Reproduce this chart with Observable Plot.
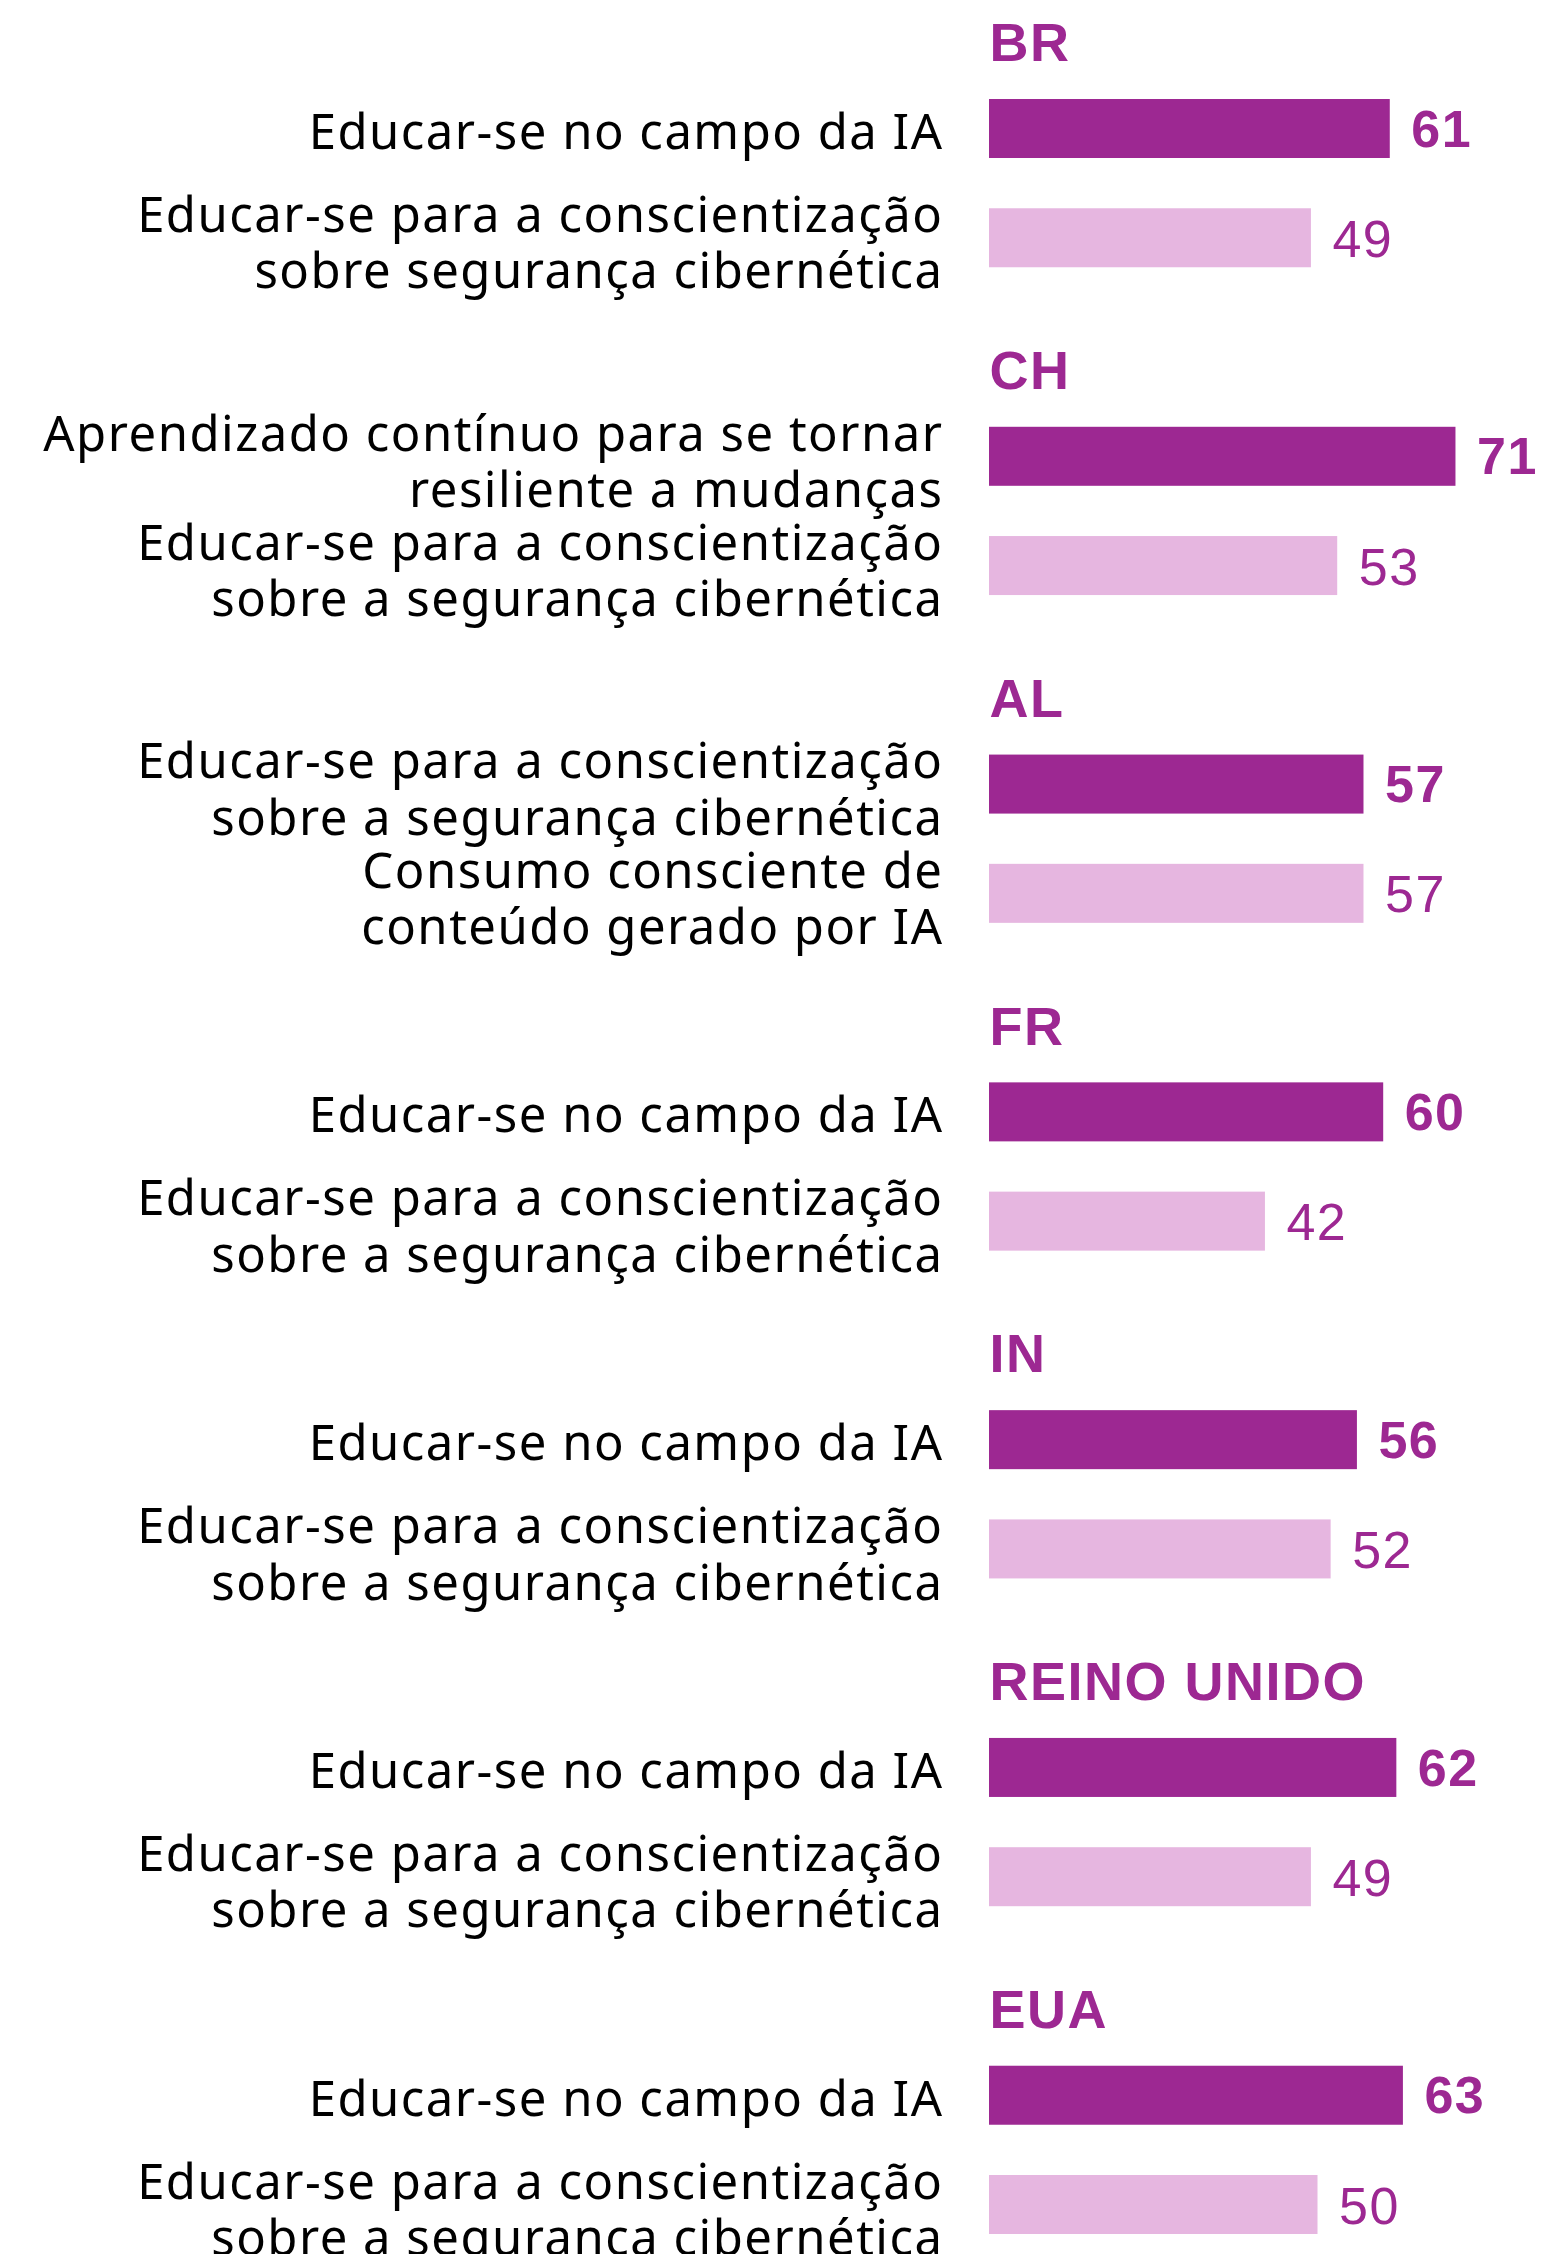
<!DOCTYPE html>
<html>
<head>
<meta charset="utf-8">
<script src="https://cdn.jsdelivr.net/npm/d3@7"></script>
<script src="https://cdn.jsdelivr.net/npm/@observablehq/plot@0.6"></script>
<style>
  html, body { margin: 0; padding: 0; background: #ffffff; }
  #chart svg text { letter-spacing: 1.5px; }
</style>
</head>
<body>
<div id="chart"></div>
<script>
// ---- Data ----
const countries = ["BR", "CH", "AL", "FR", "IN", "REINO UNIDO", "EUA"];

const firstLabels = [
  "Educar-se no campo da IA",
  "Aprendizado contínuo para se tornar\nresiliente a mudanças",
  "Educar-se para a conscientização\nsobre a segurança cibernética",
  "Educar-se no campo da IA",
  "Educar-se no campo da IA",
  "Educar-se no campo da IA",
  "Educar-se no campo da IA"
];
const firstValues = [61, 71, 57, 60, 56, 62, 63];

const secondLabels = [
  "Educar-se para a conscientização\nsobre segurança cibernética",
  "Educar-se para a conscientização\nsobre a segurança cibernética",
  "Consumo consciente de\nconteúdo gerado por IA",
  "Educar-se para a conscientização\nsobre a segurança cibernética",
  "Educar-se para a conscientização\nsobre a segurança cibernética",
  "Educar-se para a conscientização\nsobre a segurança cibernética",
  "Educar-se para a conscientização\nsobre a segurança cibernética"
];
const secondValues = [49, 53, 57, 42, 52, 49, 50];

// ---- Build table ----
const DARK = "#9d2892";
const LIGHT = "#e6b6e0";

const rows = [];
countries.forEach((c, i) => {
  rows.push(c + "|1", c + "|2");
  if (i < countries.length - 1) rows.push(c + "|gap");
});

const data = [];
countries.forEach((c, i) => {
  data.push({country: c, rank: 1, row: c + "|1", label: firstLabels[i], value: firstValues[i]});
  data.push({country: c, rank: 2, row: c + "|2", label: secondLabels[i], value: secondValues[i]});
});
const first = data.filter(d => d.rank === 1);
const second = data.filter(d => d.rank === 2);
const singleLine = data.filter(d => !d.label.includes("\n"));
const multiLine = data.filter(d => d.label.includes("\n"));

const labelStyle = {
  x: 0, y: "row", text: "label", textAnchor: "end", dx: -46,
  fontSize: 49, fontFamily: "Noto Sans", lineHeight: 1.15, fill: "#000000"
};

const chart = Plot.plot({
  width: 1547,
  height: 2254,
  margin: 0,
  x: {domain: [0, 100], range: [989, 1646], axis: null},
  y: {type: "band", domain: rows, range: [99, 2234], paddingInner: 0.46, paddingOuter: 0, align: 0, round: false, axis: null},
  style: {background: "#ffffff", overflow: "hidden"},
  marks: [
    Plot.barX(first, {x: "value", y: "row", fill: DARK}),
    Plot.barX(second, {x: "value", y: "row", fill: LIGHT}),
    Plot.text(singleLine, {...labelStyle, dy: 2}),
    Plot.text(multiLine, {...labelStyle, dy: 4}),
    Plot.text(first, {
      x: 0, y: "row", text: "country", textAnchor: "start", dy: -85,
      fontSize: 54, fontWeight: "bold", fontFamily: "Liberation Sans", fill: DARK
    }),
    Plot.text(first, {
      x: "value", y: "row", text: d => String(d.value), textAnchor: "start", dx: 21, dy: 1,
      fontSize: 52, fontWeight: "bold", fontFamily: "Liberation Sans", fill: DARK
    }),
    Plot.text(second, {
      x: "value", y: "row", text: d => String(d.value), textAnchor: "start", dx: 21, dy: 2,
      fontSize: 52, fontWeight: "normal", fontFamily: "Liberation Sans", fill: DARK
    })
  ]
});
document.getElementById("chart").appendChild(chart);
</script>
</body>
</html>
